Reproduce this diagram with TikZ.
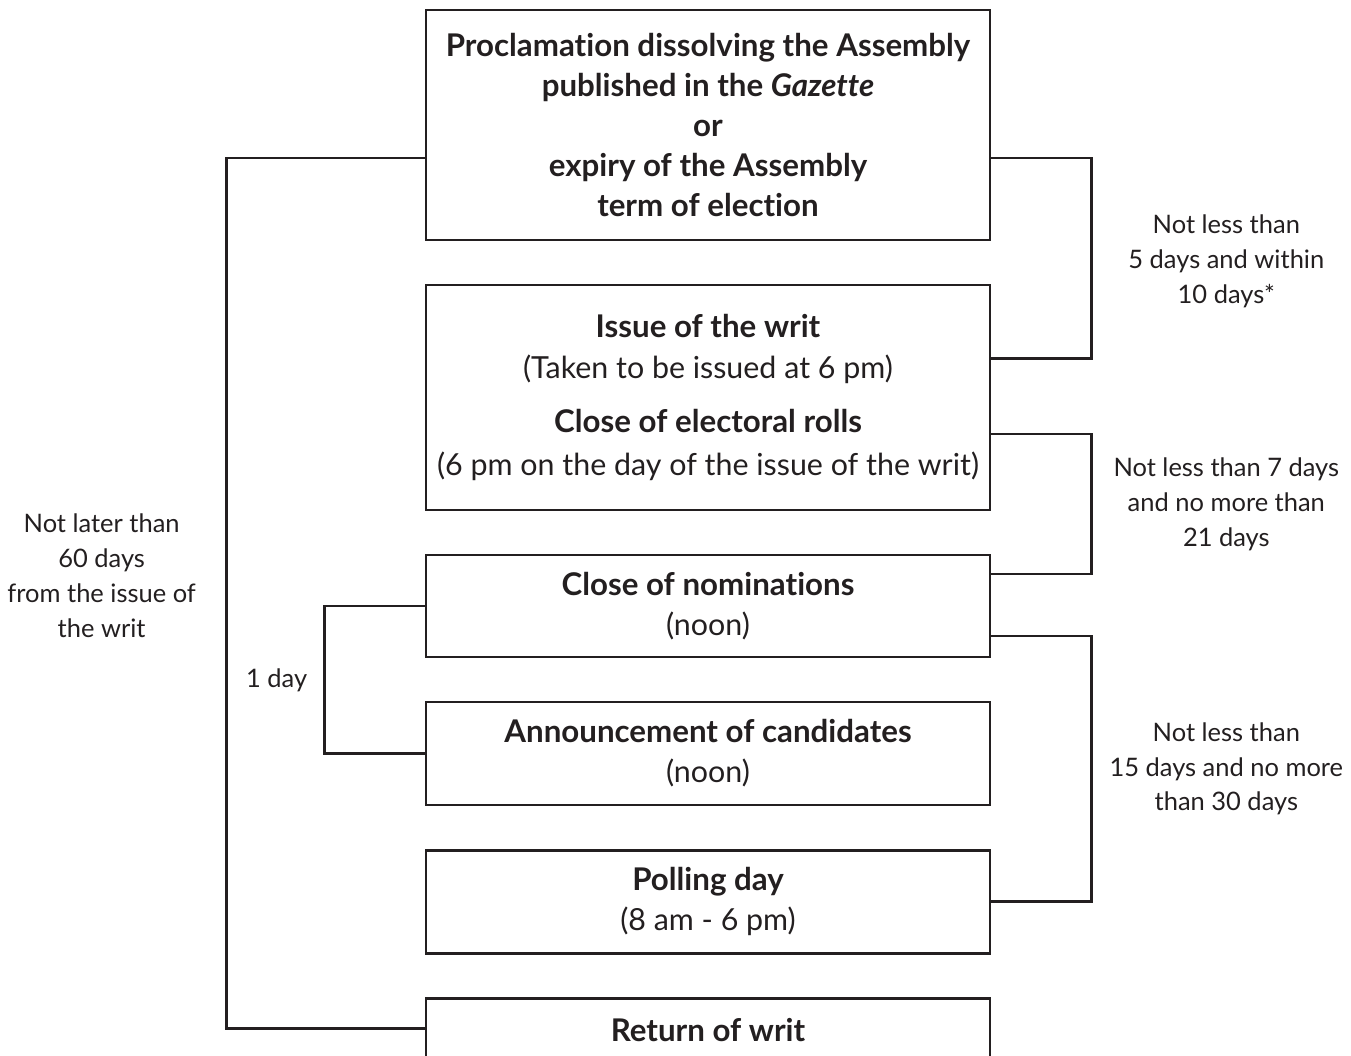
\documentclass[tikz,border=0pt]{standalone}
\usepackage{fontspec}
\setmainfont{Lato}[Ligatures=NoCommon]
\usetikzlibrary{positioning}
\definecolor{inkgrey}{HTML}{231F20}
\newcommand\plain{\fontsize{17.3}{22.8}\selectfont\mdseries}

\begin{document}
\begin{tikzpicture}[x=0.02cm,y=-0.02cm,node distance=0.845cm,
    box/.style={draw=inkgrey,line width=1.6pt,text=inkgrey,align=center,minimum width=11.28cm,inner sep=0pt,font=\fontsize{17.8}{22.8}\selectfont\bfseries},
    note/.style={align=center,text=inkgrey,font=\fontsize{14.5}{19.9}\selectfont},
    link/.style={draw=inkgrey,line width=1.6pt}]
  \useasboundingbox (0,0) rectangle (1351,1055);
  \clip (0,0) rectangle (1351,1055);
  \node[box,minimum height=4.6cm] (proc) at (708,125) {Proclamation dissolving the Assembly\\
    published in the \textit{Gazette}\\ or\\ expiry of the Assembly\\ term of election};
  \node[box,minimum height=4.5cm,below=of proc] (writ) {Issue of the writ\\[0.5pt]
    {\plain (Taken to be issued at 6 pm)}\\[8pt]
    Close of electoral rolls\\[1.7pt]
    {\plain (6 pm on the day of the issue of the writ)}};
  \node[box,minimum height=2.04cm,below=of writ] (nomin) {Close of nominations\\ {\plain (noon)}};
  \node[box,minimum height=2.06cm,below=of nomin] (cand) {Announcement of candidates\\ {\plain (noon)}};
  \node[box,minimum height=2.06cm,below=of cand] (poll) {Polling day\\ {\plain (8 am - 6 pm)}};
  \node[box,text height=0.86cm,text depth=2cm,below=of poll] (ret) {Return of writ};

  \draw[link] ([yshift=-0.66cm]proc.east) -- ++(100,0) |- node[note,pos=0.25,xshift=2.7cm,yshift=-0.06cm] {Not less than\\ 5 days and within\\ 10 days*} ([yshift=0.78cm]writ.east);
  \draw[link] ([yshift=-0.73cm]writ.east) -- ++(100,0) |- node[note,pos=0.25,xshift=2.7cm] {Not less than 7 days\\ and no more than\\ 21 days} ([yshift=0.64cm]nomin.east);
  \draw[link] ([yshift=-0.6cm]nomin.east) -- ++(100,0) |- node[note,pos=0.25,xshift=2.7cm] {Not less than\\ 15 days and no more\\ than 30 days} (poll.east);
  \draw[link] (nomin.west) -- ++(-100,0) |- node[note,pos=0.25,xshift=-0.96cm] {1 day} (cand.west);
  \draw[link] ([yshift=-0.66cm]proc.west) -- ++(-198,0) |- node[note,pos=0.24,xshift=-2.5cm] {Not later than\\ 60 days\\ from the issue of\\ the writ} ([yshift=-0.64cm]ret.north west);
\end{tikzpicture}
\end{document}
